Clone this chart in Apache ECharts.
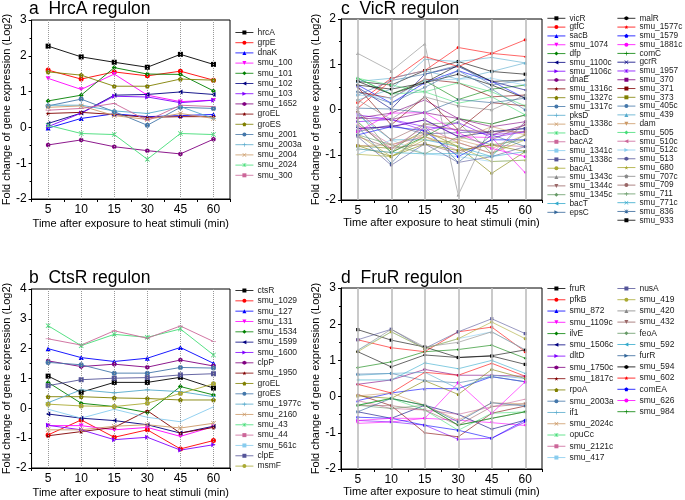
<!DOCTYPE html>
<html><head><meta charset="utf-8">
<script src="https://cdn.jsdelivr.net/npm/echarts@6/dist/echarts.min.js"></script>
<style>html,body{margin:0;padding:0;background:#fff}#c{width:685px;height:500px}</style>
</head><body><div id="c"></div>
<script>
// ---------- data ----------
const times = ['5','10','15','30','45','60'];

const hrcaNames = ['hrcA','grpE','dnaK','smu_100','smu_101','smu_102','smu_103','smu_1652','groEL','groES','smu_2001','smu_2003a','smu_2004','smu_2024','smu_300'];
const hrcaValues = [
  [2.27,1.97,1.82,1.68,2.04,1.76],
  [1.60,1.35,1.55,1.44,1.57,1.32],
  [-0.02,0.25,0.38,0.30,0.33,0.36],
  [1.37,1.06,1.49,0.90,0.72,0.76],
  [0.74,0.90,1.67,1.49,1.48,1.02],
  [0.11,0.40,0.90,0.92,0.99,0.92],
  [0.02,0.40,0.87,0.85,0.69,0.76],
  [-0.49,-0.35,-0.54,-0.65,-0.74,-0.33],
  [0.39,0.42,0.36,0.28,0.30,0.30],
  [1.55,1.46,1.15,1.15,1.35,1.32],
  [0.60,0.79,0.44,0.06,0.56,0.53],
  [0.62,0.62,0.46,0.39,0.58,0.25],
  [0.56,0.60,0.33,0.22,0.39,0.25],
  [0.06,-0.17,-0.20,-0.89,-0.17,-0.20],
  [0.48,0.53,0.67,0.19,0.62,0.58]
];

const ctsrNames = ['ctsR','smu_1029','smu_127','smu_131','smu_1534','smu_1599','smu_1600','clpP','smu_1950','groEL','groES','smu_1977c','smu_2160','smu_43','smu_44','smu_561c','clpE','msmF'];
const ctsrValues = [
  [1.08,0.54,0.87,0.87,1.04,0.68],
  [-0.89,-0.39,-0.97,-0.72,-1.36,-1.08],
  [2.00,1.70,1.57,1.68,2.04,1.51],
  [-0.58,-0.58,-0.72,-0.64,-0.94,-0.61],
  [0.87,0.17,0.06,-0.14,0.73,0.45],
  [-0.19,-0.33,-0.41,-0.55,-0.83,-0.60],
  [-0.57,-0.72,-1.05,-0.97,-1.40,-1.22],
  [1.59,1.40,1.48,1.38,1.62,1.42],
  [-0.92,-0.78,-0.64,-0.08,-0.83,-0.64],
  [0.39,0.39,0.35,0.33,0.28,0.28],
  [1.54,1.46,1.18,1.18,1.37,1.35],
  [0.19,0.62,0.52,0.62,0.56,0.39],
  [-0.72,-0.72,-0.60,-0.55,-0.66,-0.50],
  [2.77,2.10,2.48,2.38,2.66,1.79],
  [2.33,2.12,2.60,2.35,2.76,2.24],
  [-0.03,-0.33,-0.03,-0.30,-0.45,0.05],
  [0.76,0.96,1.01,1.03,1.12,1.16],
  [0.14,0.08,0.06,0.17,0.50,0.82]
];

const vicrNames = ['vicR','gtfC','sacB','smu_1074','dfp','smu_1100c','smu_1106c','dnaE','smu_1316c','smu_1327c','smu_1317c','pksD','smu_1338c','bacD','bacA2','smu_1341c','smu_1338c','bacA1','smu_1343c','smu_1344c','smu_1345c','bacT','epsC',
  'malR','smu_1577c','smu_1579','smu_1881c','comC','gcrR','smu_1957','smu_370','smu_371','smu_373','smu_405c','smu_439','dam','smu_505','smu_510c','smu_512c','smu_513','smu_680','smu_707c','smu_709','smu_711','smu_771c','smu_836','smu_933'];
const vicrValues = [
  [0.62,0.54,0.86,1.06,0.84,0.78],
  [0.15,0.69,0.86,1.37,1.24,1.54],
  [0.54,0.14,0.59,0.86,0.62,0.25],
  [-0.42,-0.38,-0.23,-0.60,-0.62,-1.40],
  [0.69,0.34,0.64,0.22,0.45,0.54],
  [0.49,0.01,0.78,0.95,0.62,0.43],
  [-0.27,-0.22,-0.38,-0.45,-0.56,-0.49],
  [-0.19,-0.22,-0.07,-0.20,-0.38,-0.27],
  [0.39,0.25,0.67,0.59,0.28,0.32],
  [-0.80,-0.86,-0.47,-0.82,-1.41,-0.93],
  [0.32,0.64,0.78,0.98,0.54,0.65],
  [0.21,0.45,1.11,1.06,1.15,1.03],
  [-0.87,-0.95,-0.54,-0.67,-0.86,-0.56],
  [0.69,0.34,0.39,0.59,0.39,0.08],
  [-0.34,-0.78,-0.60,-0.91,-0.78,-0.82],
  [-0.99,-0.67,-0.98,-1.04,-1.15,-1.12],
  [-0.49,-0.34,-0.54,-0.51,-0.49,-0.42],
  [-0.56,-1.04,-0.67,-0.73,-0.97,-0.67],
  [1.24,0.85,1.45,-1.89,-0.32,-0.12],
  [-0.60,-0.86,-0.76,-0.97,-0.67,-0.34],
  [-0.05,-0.95,-0.32,-0.29,-0.97,-0.56],
  [-0.12,-0.67,-0.67,-0.82,-1.04,-0.27],
  [-0.38,-1.19,-0.38,-1.17,-0.56,-0.82],
  [0.54,0.45,0.59,0.78,0.54,0.25],
  [0.03,0.64,1.17,0.95,1.24,1.17],
  [-0.56,-0.38,-0.47,-1.04,-0.67,-0.67],
  [-0.49,-0.08,-0.07,-0.51,-0.86,-1.04],
  [-0.27,-0.95,-0.60,-0.20,-0.32,-0.12],
  [-0.42,-0.38,-0.23,-0.60,-0.49,-0.42],
  [-0.12,-0.22,-0.47,-0.29,-0.62,-0.49],
  [-0.19,-0.08,0.21,-0.20,-0.56,-0.34],
  [0.49,-0.34,0.28,-0.45,0.15,0.08],
  [-0.80,-1.04,-0.76,-0.91,-0.78,-0.93],
  [0.39,0.14,0.49,0.86,0.45,-0.01],
  [0.62,0.69,0.86,0.67,0.84,1.03],
  [-0.80,-0.78,-0.54,-0.67,-0.38,-0.56],
  [0.69,0.54,0.39,0.14,0.28,-0.12],
  [-0.34,-0.86,-0.38,-0.73,-0.97,-0.27],
  [0.32,0.25,0.64,0.67,0.69,0.54],
  [-0.60,-1.23,-0.76,-1.17,-1.04,-0.82],
  [-0.99,-1.04,-0.60,-0.82,-1.15,-1.12],
  [0.21,-0.22,0.28,0.08,-0.01,0.32],
  [-0.05,-0.67,-0.32,-0.45,-0.49,-0.49],
  [-0.56,-0.78,-0.98,-0.60,-0.78,-0.67],
  [-0.87,-0.95,-0.98,-0.97,-1.04,-0.93],
  [0.03,0.01,-0.07,0.22,0.15,0.25],
  [0.62,0.34,0.59,0.98,0.62,0.65]
];

const frurNames = ['fruR','pfkB','smu_872','smu_1109c','ilvE','smu_1506c','dltD','smu_1750c','smu_1817c','rpoA','smu_2003a','if1','smu_2024c','opuCc','smu_2121c','smu_417',
  'nusA','smu_419','smu_420','smu_432','feoA','smu_592','furR','smu_594','smu_602','comEA','smu_626','smu_984'];
const frurValues = [
  [1.85,1.56,1.37,1.08,1.12,0.89],
  [1.57,1.35,1.24,1.79,1.92,1.24],
  [-0.11,0.10,0.22,0.22,0.55,0.41],
  [-0.74,-0.70,-0.60,-0.65,-0.72,-0.80],
  [0.80,0.96,1.24,1.30,1.42,1.06],
  [-0.42,-0.60,-0.24,-0.49,-0.90,-0.65],
  [-0.66,-0.70,-0.79,-1.18,-1.15,-0.70],
  [0.34,0.46,0.75,0.59,0.59,0.56],
  [0.06,-0.25,-1.00,-1.11,-0.46,-0.26],
  [0.02,-0.05,0.44,0.06,0.75,0.50],
  [0.62,0.64,0.44,0.38,0.55,0.41],
  [0.59,0.64,0.67,0.22,0.59,0.50],
  [0.02,0.10,-0.24,-0.65,-0.17,-0.20],
  [-0.24,-0.05,-0.37,-0.93,-0.46,-0.42],
  [-0.11,-0.33,-0.37,-0.49,-0.28,-0.07],
  [1.28,1.79,1.33,1.60,1.79,1.29],
  [1.57,1.86,1.33,1.79,2.15,1.74],
  [1.24,1.79,1.33,1.60,2.06,1.60],
  [1.28,1.86,1.37,1.50,1.79,1.29],
  [-0.24,-0.25,-0.37,-0.79,-0.28,-0.20],
  [-0.24,-0.33,-0.24,-0.79,-0.60,-0.42],
  [0.46,0.46,0.93,0.77,1.00,0.64],
  [-0.42,-0.05,-0.24,-0.70,-0.17,-0.26],
  [1.24,0.82,1.15,1.08,1.13,1.29],
  [0.34,0.10,0.67,0.59,0.92,0.56],
  [-0.57,-0.60,-0.79,-0.93,-1.15,-0.65],
  [-0.66,-0.60,-0.60,0.38,-0.46,0.41],
  [-0.24,-0.05,-0.24,-0.79,-0.60,-0.42]
];

// ---------- styles ----------
const COLORS = ['#000000','#ff0000','#0000ff','#ff00ff','#008000','#000080','#8000ff','#800080','#800000','#808000',
  '#4477aa','#55aacc','#cc9966','#44dd77','#cc6699','#88ccee','#555599','#aaaa33','#888888','#996666','#669966','#33aacc','#336699'];
const SYMBOLS = ['rect','circle','triangle',
  'path://M0,10 L-10,-7 L10,-7 Z','diamond',
  'path://M-10,0 L7,-10 L7,10 Z','path://M10,0 L-7,-10 L-7,10 Z',
  'path://M0,-10 L8.66,-5 L8.66,5 L0,10 L-8.66,5 L-8.66,-5 Z',
  'path://M0,-10 L2.35,-3.24 L9.51,-3.09 L3.8,1.24 L5.88,8.09 L0,4 L-5.88,8.09 L-3.8,1.24 L-9.51,-3.09 L-2.35,-3.24 Z',
  'path://M0,-10 L9.51,-3.09 L5.88,8.09 L-5.88,8.09 L-9.51,-3.09 Z',
  'circle',
  'path://M-1.5,-10 L1.5,-10 L1.5,-1.5 L10,-1.5 L10,1.5 L1.5,1.5 L1.5,10 L-1.5,10 L-1.5,1.5 L-10,1.5 L-10,-1.5 L-1.5,-1.5 Z',
  'path://M-10,-8 L-8,-10 L0,-2 L8,-10 L10,-8 L2,0 L10,8 L8,10 L0,2 L-8,10 L-10,8 L-2,0 Z',
  'path://M-10,-8 L-8,-10 L0,-2 L8,-10 L10,-8 L2,0 L10,8 L8,10 L0,2 L-8,10 L-10,8 L-2,0 Z M-1.2,-10 L1.2,-10 L1.2,10 L-1.2,10 Z',
  'path://M-10,-1.2 L10,-1.2 L10,1.2 L-10,1.2 Z',
  'path://M-1.2,-10 L1.2,-10 L1.2,10 L-1.2,10 Z'];

const FONT = 'Liberation Sans, Arial, sans-serif';
const chart = echarts.init(document.getElementById('c'), null, {renderer:'canvas'});

const panels = [
  {key:'a', title:'a  HrcA regulon', names:hrcaNames, values:hrcaValues, grid:{left:30,top:20,width:200,height:179}, ymin:-2, ymax:3, dotted:true, sym:5, lw:0.9, tTop:0, tLeft:29, nameGapY:18, nameGapX:19},
  {key:'b', title:'b  CtsR regulon', names:ctsrNames, values:ctsrValues, grid:{left:30,top:289,width:200,height:179}, ymin:-2, ymax:4, dotted:true, sym:5, lw:0.9, tTop:269, tLeft:29, nameGapY:18, nameGapX:19},
  {key:'c', title:'c  VicR regulon', names:vicrNames, values:vicrValues, grid:{left:341,top:19,width:201,height:181}, ymin:-2, ymax:2, dotted:false, sym:3.2, lw:0.6, tTop:0, tLeft:341, nameGapY:15, nameGapX:17},
  {key:'d', title:'d  FruR regulon', names:frurNames, values:frurValues, grid:{left:341,top:288,width:201,height:181}, ymin:-2, ymax:3, dotted:false, sym:3.2, lw:0.6, tTop:269, tLeft:341, nameGapY:15, nameGapX:17}
];

const grids=[], xAxes=[], yAxes=[], series=[], titles=[];
panels.forEach((p,gi)=>{
  grids.push(Object.assign({show:true, borderColor:'#000', borderWidth:1, backgroundColor:'transparent'}, p.grid));
  titles.push({text:p.title, left:p.tLeft, top:p.tTop, padding:0, textStyle:{fontFamily:FONT, fontSize:17.5, fontWeight:'normal', color:'#000'}});
  xAxes.push({type:'category', gridIndex:gi, data:times, boundaryGap:true,
    name:'Time after exposure to heat stimuli (min)', nameLocation:'middle', nameGap:p.nameGapX,
    nameTextStyle:{fontFamily:FONT, fontSize:11, color:'#000'},
    axisLine:{onZero:false, lineStyle:{color:'#000', width:1}}, axisTick:{show:true, length:3, lineStyle:{color:'#000'}},
    axisLabel:{fontFamily:FONT, fontSize:12, color:'#000', margin:5}, splitLine:{show:false}});
  yAxes.push({type:'value', gridIndex:gi, min:p.ymin, max:p.ymax, interval:1,
    name:'Fold change of gene expression (Log2)', nameLocation:'middle', nameGap:p.nameGapY,
    nameTextStyle:{fontFamily:FONT, fontSize:11, color:'#000'},
    axisLine:{show:true, onZero:false, lineStyle:{color:'#000', width:1}}, axisTick:{show:true, length:3, lineStyle:{color:'#000'}},
    minorTick:{show:true, splitNumber:2, length:2, lineStyle:{color:'#000'}},
    axisLabel:{fontFamily:FONT, fontSize:12, color:'#000', margin:5}, splitLine:{show:false}});
  series.push({type:'line', name:'_guide'+p.key, xAxisIndex:gi, yAxisIndex:gi, data:[], z:1, silent:true, animation:false,
    markLine:{silent:true, symbol:'none', label:{show:false}, animation:false,
      lineStyle: p.dotted ? {type:'dotted', color:'#999', width:1} : {type:'solid', color:'#bdbdbd', width:1.6},
      data: times.map(t=>({xAxis:t}))}});
  p.names.forEach((n,i)=>{
    const col = COLORS[i%COLORS.length];
    series.push({type:'line', name:p.key+'|'+n+'|'+i, xAxisIndex:gi, yAxisIndex:gi, data:p.values[i],
      symbol:SYMBOLS[i%SYMBOLS.length], symbolSize:p.sym, symbolKeepAspect:true, showSymbol:true,
      itemStyle:{color:col}, lineStyle:{color:col, width:p.lw}, z:3, animation:false, emphasis:{disabled:true}});
  });
});

function legendCol(p, from, to, left, top, gap, fs){
  return {orient:'vertical', left:left, top:top, padding:0, itemGap:gap, itemWidth:18, itemHeight:5,
    selectedMode:false,
    lineStyle:{width:0.8},
    textStyle:{fontFamily:FONT, fontSize:fs, lineHeight:8, color:'#222', padding:[0,0,0,-1]},
    formatter: nm => nm.split('|')[1],
    data: p.names.slice(from,to).map((n,k)=>p.key+'|'+n+'|'+(from+k))};
}
const legends = [
  legendCol(panels[0],0,15,235,28,1.2,8.5),
  legendCol(panels[1],0,18,235,286,1.33,8.5),
  legendCol(panels[2],0,23,547,14.3,0.82,8.3),
  legendCol(panels[2],23,47,617,14.3,0.78,8.3),
  legendCol(panels[3],0,16,547,284,2.27,8.5),
  legendCol(panels[3],16,28,617,284,2.2,8.5)
];

chart.setOption({animation:false, backgroundColor:'#fff', title:titles, grid:grids, xAxis:xAxes, yAxis:yAxes, legend:legends, series:series});
</script></body></html>
